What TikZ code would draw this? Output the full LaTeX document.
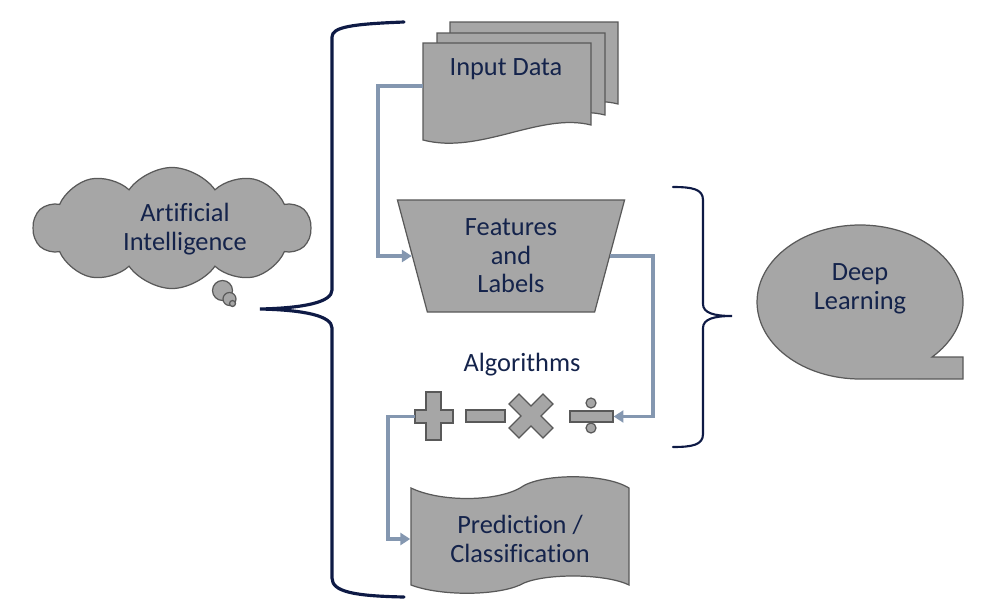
\documentclass[tikz,border=0pt]{standalone}
\usepackage{fontspec}
\setmainfont{Carlito}[Ligatures=NoCommon]
\usetikzlibrary{shapes.geometric,shapes.symbols,arrows.meta}
\definecolor{shapegray}{HTML}{A6A6A6}
\definecolor{edgegray}{HTML}{595959}
\definecolor{inknavy}{HTML}{14234B}
\definecolor{bracenavy}{HTML}{0E1A45}
\definecolor{flowblue}{HTML}{8497B0}

\begin{document}
\begin{tikzpicture}[x=0.01cm, y=-0.01cm,
    box/.style={fill=shapegray, draw=edgegray, line width=0.35pt},
    txt/.style={text=inknavy, font=\fontsize{7.5}{8.1}\selectfont, align=center, inner sep=0pt},
    flow/.style={draw=flowblue, line width=1pt, -{Triangle[length=2.8pt,width=3.4pt]}},
    brace/.style={draw=bracenavy, line width=0.9pt, line cap=round}]

    \useasboundingbox (0,0) rectangle (1000,609);

    % thought bubble and cloud
    \filldraw[box] (222.5,290.5) circle (10);
    \filldraw[box] (229.5,299) circle (6.5);
    \filldraw[box] (232.5,303.5) circle (3);
    \node[box, cloud, cloud puffs=10, cloud puff arc=110, cloud ignores aspect, minimum width=2.77cm, minimum height=1.21cm, inner sep=0pt] (ai) at (172,228) {};
    \node[txt] (aitext) at (185,229) {Artificial\\Intelligence};

    % big brace
    \draw[brace] (404,22) .. controls (352,24) and (332,27) .. (332,37) -- (332,290) .. controls (332,302) and (305,308) .. (260,309) .. controls (305,310) and (332,316) .. (332,328) -- (332,578) .. controls (332,592) and (355,596) .. (404,597);

    % input pages
    \foreach \dx/\dy in {27/-21, 14/-10, 0/0}
      \filldraw[box, shift={(\dx,\dy)}] (423,43) -- (591,43) -- (591,125) .. controls (540,112) and (480,155) .. (423,140) -- cycle;
    \node[txt] (input) at (506,69) {Input Data};
    \coordinate (inedge) at (423,86);

    \node[box, txt, trapezium, shape border rotate=180, trapezium stretches body, trapezium angle=68, minimum width=2.27cm, minimum height=1.12cm] (feat) at (511,256) {Features\\and\\Labels};

    \node[txt] (algo) at (522,365) {Algorithms};

    % operators
    \filldraw[box] (426,392) -- (441,392) -- (441,410) -- (453,410) -- (453,423) -- (441,423) -- (441,440) -- (426,440) -- (426,423) -- (415,423) -- (415,410) -- (426,410) -- cycle;
    \coordinate (plusedge) at (415,416.5);
    \node[box, minimum width=0.39cm, minimum height=0.12cm, inner sep=0pt] (minus) at (485.5,416) {};
    \filldraw[box, shift={(531,416)}, rotate=45] (-7,-24) -- (7,-24) -- (7,-7) -- (24,-7) -- (24,7) -- (7,7) -- (7,24) -- (-7,24) -- (-7,7) -- (-24,7) -- (-24,-7) -- (-7,-7) -- cycle;
    \node[box, minimum width=0.43cm, minimum height=0.11cm, inner sep=0pt] (divbar) at (591.5,416.5) {};
    \filldraw[box] (591,403) circle (5) (591,428) circle (5);

    % prediction
    \filldraw[box] (411,488) .. controls (440,502) and (495,502) .. (520,488) .. controls (540,473) and (605,473) .. (629,488) -- (629,585) .. controls (605,573) and (540,573) .. (520,585) .. controls (495,596) and (440,596) .. (411,585) -- cycle;
    \node[txt, minimum width=2.18cm] (pred) at (520,539) {Prediction /\\Classification};

    % deep learning
    \filldraw[box] (932.1,357) arc[start angle=45.6, end angle=-270, x radius=103, y radius=77] -- (963,379) -- (963,357) -- cycle;
    \node[txt] (dl) at (860,289) {Deep\\Learning};

    \draw[brace, line width=0.6pt] (673,187) .. controls (692,187) and (703,189) .. (703,200) -- (703,304) .. controls (703,313) and (714,316) .. (732,316) .. controls (714,316) and (703,319) .. (703,328) -- (703,434) .. controls (703,445) and (692,447) .. (673,447);

    \draw[flow] (inedge) -- ++(-45,0) |- (feat.west);
    \draw[flow] (feat.east) -- ++(43,0) |- (divbar.east);
    \draw[flow] (plusedge) -- ++(-27,0) |- (pred.west);

\end{tikzpicture}
\end{document}
